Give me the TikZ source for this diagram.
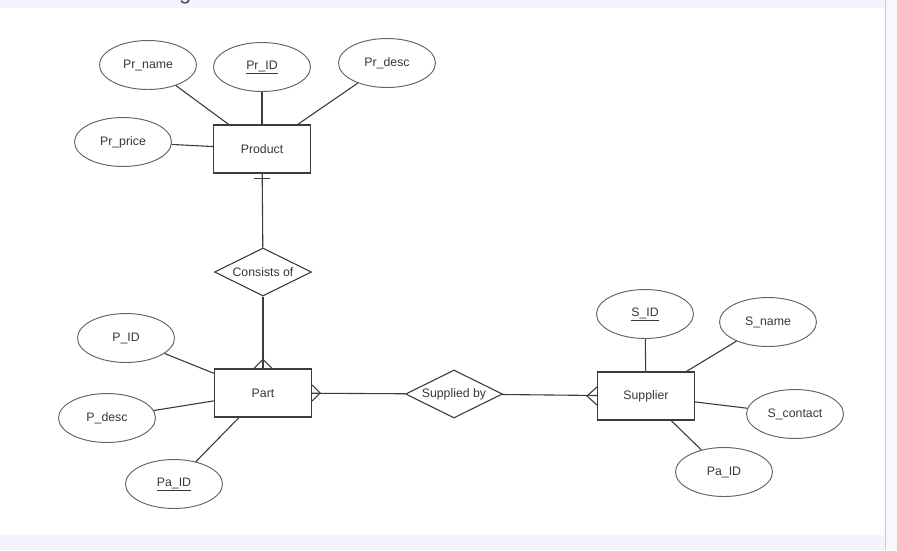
\documentclass[tikz,border=0pt]{standalone}
\usepackage{fontspec}
\setmainfont{Liberation Sans}
\usepackage{xcolor}
\usepackage{tikz}
\usetikzlibrary{shapes.geometric,calc}

\definecolor{pagebg}{RGB}{244,244,252}
\definecolor{sidebg}{RGB}{248,248,252}
\definecolor{sideline}{RGB}{200,200,222}
\definecolor{hdrtext}{RGB}{70,70,120}
\definecolor{ink}{RGB}{60,60,60}
\definecolor{label}{RGB}{55,55,55}

\begin{document}
\begin{tikzpicture}[
  x=1pt,y=-1pt,
  link/.style={draw=ink,line width=1.1pt},
  entity/.style={draw=ink,line width=1.1pt,minimum width=97pt,
    minimum height=48pt,inner sep=0pt},
  attr/.style={draw=ink!80,line width=0.95pt,ellipse,minimum width=97pt,
    minimum height=49pt,inner sep=0pt},
  rel/.style={draw=ink,line width=1.1pt,diamond,aspect=2,
    minimum width=97pt,minimum height=48pt,inner sep=0pt},
  every node/.style={font=\fontsize{12.3}{15}\selectfont,text=label}
]
  % page and frame
  \useasboundingbox (0,0) rectangle (897,550);
  \fill[pagebg] (0,0) rectangle (897,550);
  \fill[white] (0,8) rectangle (884,535);
  \fill[sidebg] (886,0) rectangle (897,550);
  \draw[sideline,line width=1.2pt] (885.5,0) -- (885.5,550);
  \begin{scope}
    \clip (0,0) rectangle (884,8);
    \node[anchor=base west,inner sep=0pt,text=hdrtext,
      font=\fontsize{22}{26}\selectfont] (heading) at (179,-1) {g};
  \end{scope}

  % entities
  \node[entity] (product) at (262,149) {Product};
  \node[entity] (part) at (263,393) {Part};
  \node[entity] (supplier) at (646,396) {Supplier};

  % relationships
  \node[rel] (consists) at (263,272) {Consists of};
  \node[rel] (supplied) at (454,394) {Supplied by};

  % attributes
  \node[attr] (prname) at (148,65) {Pr\_name};
  \node[attr] (prid) at (262,67) {\underline{Pr\_ID}};
  \node[attr] (prdesc) at (387,63) {Pr\_desc};
  \node[attr] (prprice) at (123,142) {Pr\_price};
  \node[attr] (pid) at (126,338) {P\_ID};
  \node[attr] (pdesc) at (107,418) {P\_desc};
  \node[attr] (paid) at (174,484) {\underline{Pa\_ID}};
  \node[attr] (sid) at (645,314) {\underline{S\_ID}};
  \node[attr] (sname) at (768,322) {S\_name};
  \node[attr] (scontact) at (795,414) {S\_contact};
  \node[attr] (spaid) at (724,472) {Pa\_ID};

  \draw[link] (prname) -- (product);
  \draw[link] (prid) -- (product);
  \draw[link] (prdesc) -- (product);
  \draw[link] (prprice) -- (product);
  \draw[link] (pid) -- (part);
  \draw[link] (pdesc) -- (part);
  \draw[link] (paid) -- (part);
  \draw[link] (sid) -- (supplier);
  \draw[link] (sname) -- (supplier);
  \draw[link] (scontact) -- (supplier);
  \draw[link] (spaid) -- (supplier);

  % product -- part (one to many)
  \draw[link] (product) -- (consists);
  \draw[link] ($(product.south)+(-8,5)$) -- ($(product.south)+(8,5)$);
  \draw[link] (consists) -- (part);
  \draw[link] ($(part.north)+(-9,0)$) -- ($(part.north)+(0,-9)$)
    -- ($(part.north)+(9,0)$);

  % part -- supplier (many to many)
  \draw[link] (part) -- (supplied);
  \draw[link] ($(part.east)+(0,-8)$) -- ($(part.east)+(8,0)$)
    -- ($(part.east)+(0,8)$);
  \draw[link] (supplied) -- (supplier);
  \draw[link] ($(supplier.west)+(0,-9)$) -- ($(supplier.west)+(-10,0)$)
    -- ($(supplier.west)+(0,9)$);
\end{tikzpicture}
\end{document}
